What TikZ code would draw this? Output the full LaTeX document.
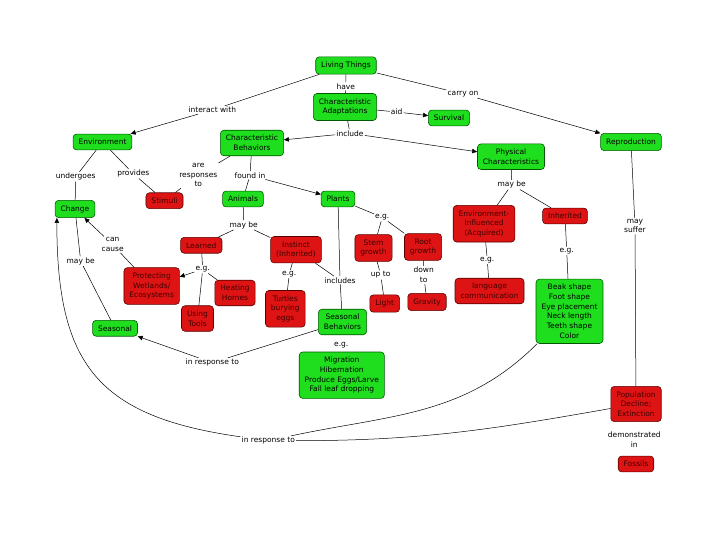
\documentclass[tikz,border=0pt]{standalone}
\usepackage{fontspec}
\setmainfont{DejaVu Sans}
\usetikzlibrary{arrows.meta}
\definecolor{cgreen}{RGB}{30,222,30}
\definecolor{cred}{RGB}{222,20,20}
\begin{document}
\begin{tikzpicture}[x=1pt,y=1pt,line width=.5pt,>={Triangle[length=5pt,width=4.5pt]},
 box/.style={rounded corners=3.5pt,inner xsep=5.5pt,inner ysep=5pt,align=center,
   font=\fontsize{7.5}{9.7}\selectfont,line width=.6pt},
 good/.style={box,fill=cgreen,draw=green!35!black},
 bad/.style={box,fill=cred,draw=red!35!black,text=red!25!black},
 link/.style={inner sep=1pt,align=center,font=\fontsize{7.5}{9.7}\selectfont}]
 \useasboundingbox (0,0) rectangle (720,-540);
 % concepts
 \node[good] (living) at (346,-65.5) {Living Things};
 \node[good] (adapt) at (345,-107) {Characteristic\\Adaptations};
 \node[good] (survival) at (449,-118) {Survival};
 \node[good] (env) at (102.5,-142) {Environment};
 \node[good] (behav) at (252,-143) {Characteristic\\Behaviors};
 \node[good] (phys) at (511,-156.7) {Physical\\Characteristics};
 \node[good] (repro) at (631,-142) {Reproduction};
 \node[good] (change) at (75,-209) {Change};
 \node[good] (animals) at (243,-199) {Animals};
 \node[good] (plants) at (338,-199) {Plants};
 \node[good] (seasonal) at (115,-328.3) {Seasonal};
 \node[good] (seasbeh) at (342.5,-322) {Seasonal\\Behaviors};
 \node[good] (migr) at (341.8,-375.2) {Migration\\Hibernation\\Produce Eggs/Larve\\Fall leaf dropping};
 \node[good] (beak) at (569.5,-311.3) {Beak shape\\Foot shape\\Eye placement\\Neck length\\Teeth shape\\Color};
 \node[bad] (stimuli) at (164.5,-200.7) {Stimuli};
 \node[bad] (learned) at (201.3,-245.3) {Learned};
 \node[bad] (instinct) at (296,-249.7) {Instinct\\(Inherited)};
 \node[bad] (protect) at (151.7,-286) {Protecting\\Wetlands/\\Ecosystems};
 \node[bad] (heating) at (235,-293) {Heating\\Homes};
 \node[bad] (tools) at (197.5,-318.5) {Using\\Tools};
 \node[bad] (turtles) at (285.3,-308.8) {Turtles\\burying\\eggs};
 \node[bad] (stem) at (373.5,-248) {Stem\\growth};
 \node[bad] (root) at (423,-247) {Root\\growth};
 \node[bad] (light) at (384.7,-303.5) {Light};
 \node[bad] (gravity) at (427,-302) {Gravity};
 \node[bad] (envinf) at (484,-223.7) {Environment-\\Influenced\\(Acquired)};
 \node[bad] (inher) at (565,-216) {Inherited};
 \node[bad] (lang) at (489.5,-291) {language\\communication};
 \node[bad] (popul) at (636,-404) {Population\\Decline;\\Extinction};
 \node[bad] (fossils) at (636,-464) {Fossils};
 % linking phrases
 \node[link] (lhave) at (345.7,-86.3) {have};
 \node[link] (linteract) at (212.3,-110) {interact with};
 \node[link] (lcarry) at (463,-94) {carry on};
 \node[link] (laid) at (396.7,-112) {aid};
 \node[link] (linclude) at (350,-133.3) {include};
 \node[link] (lundergoes) at (75.7,-176.7) {undergoes};
 \node[link] (lprovides) at (133.3,-173.7) {provides};
 \node[link] (lresp) at (198.3,-175) {are\\responses\\to};
 \node[link] (lfound) at (250,-175.3) {found in};
 \node[link] (lmaybe1) at (511.7,-184.7) {may be};
 \node[link] (lmaysuffer) at (635,-226) {may\\suffer};
 \node[link] (lmaybe2) at (243.7,-225) {may be};
 \node[link] (lcause) at (112.7,-244.7) {can\\cause};
 \node[link] (lmaybe3) at (80.7,-261.3) {may be};
 \node[link] (leg1) at (202.7,-269.3) {e.g.};
 \node[link] (leg2) at (289.3,-274) {e.g.};
 \node[link] (lincludes) at (340,-280.3) {includes};
 \node[link] (leg3) at (382.3,-217.3) {e.g.};
 \node[link] (lup) at (380.7,-275) {up to};
 \node[link] (ldown) at (423.7,-275) {down\\to};
 \node[link] (leg4) at (487.3,-260) {e.g.};
 \node[link] (leg5) at (566.7,-250.7) {e.g.};
 \node[link] (leg6) at (341.3,-344.7) {e.g.};
 \node[link] (lresp2) at (212.3,-362.7) {in response to};
 \node[link] (lresp3) at (268.3,-440.7) {in response to};
 \node[link] (ldemo) at (634.3,-439.7) {demonstrated\\in};
 % connectors
 \foreach \a/\b in {living/lhave,lhave/adapt,living/linteract,living/lcarry,adapt/laid,
   adapt/linclude,env/lundergoes,lundergoes/change,env/lprovides,lprovides/stimuli,
   behav/lresp,lresp/stimuli,behav/lfound,lfound/animals,animals/lmaybe2,lmaybe2/learned,
   lmaybe2/instinct,learned/leg1,leg1/heating,leg1/tools,protect/lcause,change/lmaybe3,
   lmaybe3/seasonal,instinct/leg2,leg2/turtles,instinct/lincludes,plants/lincludes,
   lincludes/seasbeh,plants/leg3,leg3/stem,leg3/root,stem/lup,lup/light,root/ldown,
   ldown/gravity,phys/lmaybe1,lmaybe1/envinf,lmaybe1/inher,envinf/leg4,leg4/lang,
   inher/leg5,leg5/beak,repro/lmaysuffer,lmaysuffer/popul,seasbeh/lresp2}
   \draw (\a)--(\b);
 \foreach \a/\b in {linteract/env,lcarry/repro,laid/survival,linclude/behav,linclude/phys,
   lfound/plants,leg1/protect,lcause/change,lresp2/seasonal}
   \draw[->] (\a)--(\b);
 \draw (beak) to[out=-135,in=12] (lresp3);
 \draw (popul) to[out=190,in=0] (lresp3);
 \draw[->] (lresp3) to[out=172,in=-90,looseness=1.3] ([xshift=2pt]change.south west);
\end{tikzpicture}
\end{document}
